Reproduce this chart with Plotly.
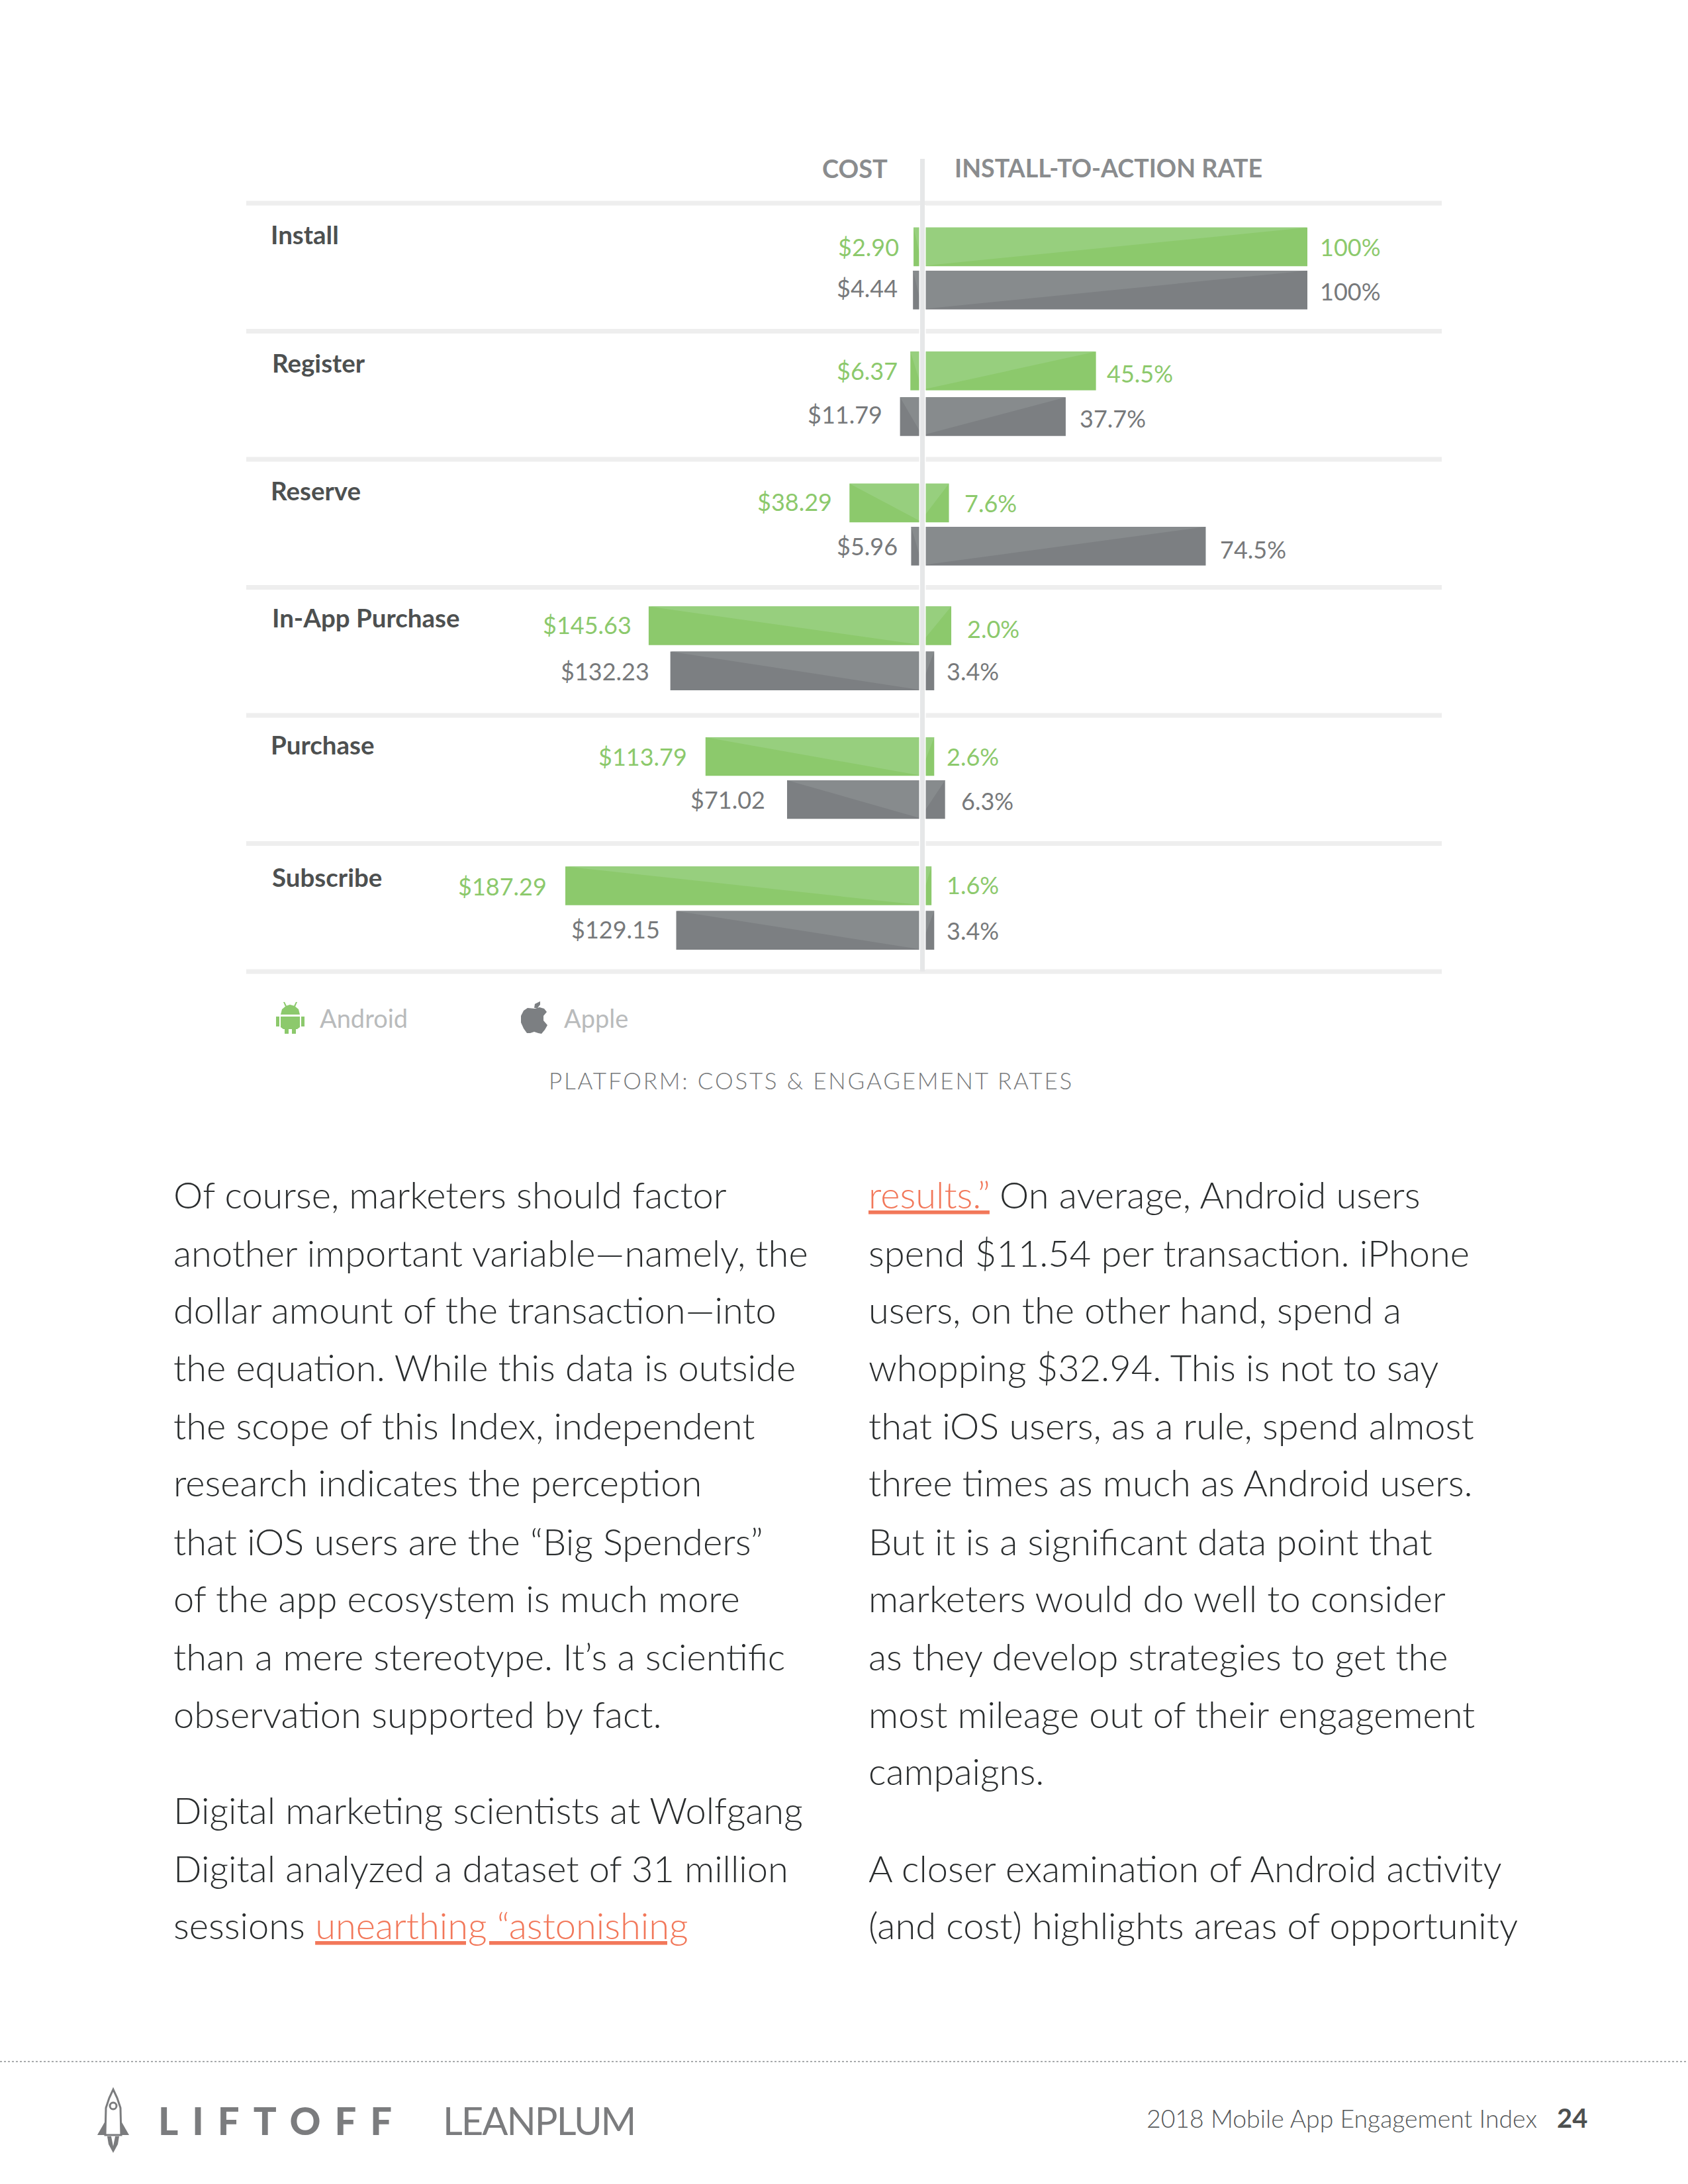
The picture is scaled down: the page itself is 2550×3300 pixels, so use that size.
import plotly.graph_objects as go

# ---------- data ----------
actions = ["Install", "Register", "Reserve", "In-App Purchase", "Purchase", "Subscribe"]
android_cost_labels = ["$2.90", "$6.37", "$38.29", "$145.63", "$113.79", "$187.29"]
apple_cost_labels = ["$4.44", "$11.79", "$5.96", "$132.23", "$71.02", "$129.15"]
android_rate_labels = ["100%", "45.5%", "7.6%", "2.0%", "2.6%", "1.6%"]
apple_rate_labels = ["100%", "37.7%", "74.5%", "3.4%", "6.3%", "3.4%"]
# bar lengths as they are drawn in the picture (not always equal to the printed label)
android_cost = [4.7, 6.37, 38.29, 143.6, 113.79, 187.29]
apple_cost = [5.0, 11.79, 5.96, 132.23, 71.02, 129.15]
android_rate_bar = [100, 45.5, 7.6, 8.2, 3.8, 3.1]
apple_rate_bar = [100, 37.7, 73.8, 3.8, 6.6, 3.8]

left_column = [
    "Of course, marketers should factor",
    "another important variable—namely, the",
    "dollar amount of the transaction—into",
    "the equation. While this data is outside",
    "the scope of this Index, independent",
    "research indicates the perception",
    "that iOS users are the “Big Spenders”",
    "of the app ecosystem is much more",
    "than a mere stereotype. It’s a scientific",
    "observation supported by fact.",
    "Digital marketing scientists at Wolfgang",
    "Digital analyzed a dataset of 31 million",
    "sessions <span style='color:#F2785A'><u>unearthing “astonishing</u></span>",
]
right_column = [
    "<span style='color:#F2785A'><u>results.”</u></span> On average, Android users",
    "spend $11.54 per transaction. iPhone",
    "users, on the other hand, spend a",
    "whopping $32.94. This is not to say",
    "that iOS users, as a rule, spend almost",
    "three times as much as Android users.",
    "But it is a significant data point that",
    "marketers would do well to consider",
    "as they develop strategies to get the",
    "most mileage out of their engagement",
    "campaigns.",
    "A closer examination of Android activity",
    "(and cost) highlights areas of opportunity",
]

# ---------- layout ----------
W, H = 2550, 3300
FONT = "Lato"
GREEN_D, GREEN_L = "#8CC96C", "#97CF7E"
GRAY_D, GRAY_L = "#7C7F82", "#878B8D"
GREEN_T, GRAY_T = "#8CC96C", "#77797B"
ROW_PX, ROW0_PX = 193.5, 307
BAR_H = 0.302
android_lane = [0.341, 0.310, 0.341, 0.300, 0.321, 0.331]
apple_lane = [0.678, 0.667, 0.678, 0.652, 0.657, 0.678]
COST_ZERO_PX, COST_PX = 1393.6, 2.881
RATE_ZERO_PX, RATE_PX = 1389.0, 5.86

android_cost_dx = [-20, -17, -24, -24, -26, -26]
apple_cost_dx = [-21, -25, -18, -30, -31, -23]
android_rate_dx = [17, 14, 21, 22, 17, 21]
apple_rate_dx = [17, 19, 20, 17, 22, 17]
android_cost_dy = [0, 0, -2, -2, 0, 0]
apple_cost_dy = [-3, -4, 0, 0, 0, -2]
android_rate_dy = [0, 4, 0, 4, 0, -2]
apple_rate_dy = [2, 2, 5, 0, 2, 0]
label_x = [408, 410, 408, 410, 408, 410]
label_y = [354, 548, 741, 933, 1125, 1325]

fig = go.Figure()
ya = [i + d for i, d in enumerate(android_lane)]
yb = [i + d for i, d in enumerate(apple_lane)]


def sheen(values, ys, color, axis):
    for v, y in zip(values, ys):
        fig.add_trace(go.Scatter(
            x=[0, 0, v, 0], y=[y + BAR_H / 2, y - BAR_H / 2, y - BAR_H / 2, y + BAR_H / 2],
            mode="lines", line=dict(width=0), fill="toself", fillcolor=color,
            xaxis=axis, yaxis="y", hoverinfo="skip", showlegend=False))


for vals, ys, col, axis in [
    (android_cost, ya, GREEN_D, "x"), (apple_cost, yb, GRAY_D, "x"),
    (android_rate_bar, ya, GREEN_D, "x2"), (apple_rate_bar, yb, GRAY_D, "x2"),
]:
    fig.add_trace(go.Bar(x=vals, y=ys, orientation="h", width=BAR_H, marker=dict(color=col, line=dict(width=0)),
                         xaxis=axis, yaxis="y", showlegend=False))
sheen(android_cost, ya, GREEN_L, "x")
sheen(apple_cost, yb, GRAY_L, "x")
sheen(android_rate_bar, ya, GREEN_L, "x2")
sheen(apple_rate_bar, yb, GRAY_L, "x2")

ann = []


def page_text(px, py, text, size, color, weight=400, anchor="left", font=FONT):
    ann.append(dict(xref="paper", yref="paper", x=px / W, y=1 - py / H, text=text, showarrow=False,
                    xanchor=anchor, yanchor="middle", align=anchor, borderpad=0,
                    font=dict(family=font, size=size, color=color, weight=weight)))


def value_labels(xref, values, ys, texts, dxs, dys, color, anchor):
    for v, y, t, dx, dy in zip(values, ys, texts, dxs, dys):
        ann.append(dict(xref=xref, yref="y", x=v, y=y, text=t, showarrow=False, xanchor=anchor, yanchor="middle",
                        xshift=dx, yshift=-dy, font=dict(family=FONT, size=36, color=color)))


value_labels("x", android_cost, ya, android_cost_labels, android_cost_dx, android_cost_dy, GREEN_T, "right")
value_labels("x", apple_cost, yb, apple_cost_labels, apple_cost_dx, apple_cost_dy, GRAY_T, "right")
value_labels("x2", android_rate_bar, ya, android_rate_labels, android_rate_dx, android_rate_dy, GREEN_T, "left")
value_labels("x2", apple_rate_bar, yb, apple_rate_labels, apple_rate_dx, apple_rate_dy, GRAY_T, "left")

for name, px, py in zip(actions, label_x, label_y):
    page_text(px, py, name, 38.5, "#4D5050", 700)

page_text(1241, 254, "COST", 38, "#8A8C8E", 700)
page_text(1441, 254, "INSTALL-TO-ACTION RATE", 37.6, "#8A8C8E", 700)
page_text(482, 1538, "Android", 38, "#B9BBBC")
page_text(851, 1538, "Apple", 38, "#B9BBBC")
page_text(1225, 1632, "<span style='letter-spacing:2.8px'>PLATFORM: COSTS &amp; ENGAGEMENT RATES</span>", 35,
          "#77797B", 300, "center")

left_y = [858, 900, 941, 982, 1024, 1065, 1107, 1148, 1190, 1231, 1300, 1342, 1383]
right_y = [858, 900, 941, 982, 1024, 1065, 1107, 1148, 1190, 1231, 1272, 1342, 1383]
for t, y in zip(left_column, left_y):
    page_text(261, y * 2.104 - 1, t, 56, "#2A2D2E", 300)
for t, y in zip(right_column, right_y):
    page_text(1311, y * 2.104 - 1, t, 56, "#2A2D2E", 300)

page_text(238, 3203, "<span style='letter-spacing:21px'>LIFTOFF</span>", 58, "#7B7C7E", 900)
page_text(668, 3203, "<span style='letter-spacing:-2px'>LEANPLUM</span>", 58, "#7B7C7E", 400)
page_text(1731, 3200, "2018 Mobile App Engagement Index", 37.4, "#55585A", 300)
page_text(2351, 3200, "24", 40, "#4D5050", 700)


def path(points, close=True):
    s = "M " + " L ".join(f"{x / W:.5f},{1 - y / H:.5f}" for x, y in points)
    return s + (" Z" if close else "")


shapes = []
for r in range(len(actions) + 1):
    shapes.append(dict(type="line", xref="paper", yref="y", x0=372 / W, x1=2178 / W, y0=r, y1=r,
                       line=dict(color="#EEEEEE", width=7), layer="below"))
shapes.append(dict(type="rect", xref="paper", yref="paper", x0=1388.5 / W, x1=1398.5 / W, y0=1 - 310 / H, y1=1 - 1465 / H,
                   fillcolor="#FFFFFF", line=dict(width=0), layer="above"))
shapes.append(dict(type="rect", xref="paper", yref="paper", x0=1390 / W, x1=1397 / W, y0=1 - 240 / H, y1=1 - 1468 / H,
                   fillcolor="#E6E7E8", line=dict(width=0), layer="above"))
shapes.append(dict(type="line", xref="paper", yref="paper", x0=0, x1=1, y0=1 - 3115 / H, y1=1 - 3115 / H,
                   line=dict(color="#A8AAAC", width=2, dash="dot")))

# rocket
shapes.append(dict(type="path", xref="paper", yref="paper", line=dict(color="#7B7C7E", width=3), fillcolor="rgba(0,0,0,0)",
                   path=path([(171, 3157), (165, 3170), (160, 3185), (159, 3226), (183, 3226), (182, 3185), (177, 3170)])))
for pts in ([(159, 3205), (147, 3226), (159, 3226)], [(183, 3205), (195, 3226), (183, 3226)],
            [(162, 3228), (180, 3228), (178, 3240), (171, 3253), (164, 3240)]):
    shapes.append(dict(type="path", xref="paper", yref="paper", line=dict(width=0), fillcolor="#7B7C7E", path=path(pts)))
shapes.append(dict(type="path", xref="paper", yref="paper", line=dict(width=0), fillcolor="#FFFFFF",
                   path=path([(168, 3228), (174, 3228), (171, 3243)])))
shapes.append(dict(type="circle", xref="paper", yref="paper", x0=166 / W, x1=176 / W, y0=1 - 3177 / H, y1=1 - 3187 / H,
                   line=dict(color="#7B7C7E", width=3)))

# android icon
for pts in ([(424, 1533), (426, 1525), (432, 1520), (438, 1518), (445, 1520), (451, 1525), (453, 1533)],
            [(424, 1536), (453, 1536), (453, 1552), (449, 1555), (428, 1555), (424, 1552)],
            [(417, 1536), (422, 1536), (422, 1551), (417, 1551)], [(455, 1536), (460, 1536), (460, 1551), (455, 1551)],
            [(430, 1555), (436, 1555), (436, 1562), (430, 1562)], [(441, 1555), (447, 1555), (447, 1562), (441, 1562)],
            [(428, 1514), (430, 1514), (433, 1520), (431, 1521)], [(449, 1514), (447, 1514), (444, 1520), (446, 1521)]):
    shapes.append(dict(type="path", xref="paper", yref="paper", line=dict(width=0), fillcolor=GREEN_T, path=path(pts)))

# apple icon
apple_pts = [(808, 1524), (815, 1522), (822, 1524), (826, 1529), (821, 1535), (821, 1542), (827, 1549), (823, 1556),
             (818, 1562), (813, 1561), (807, 1559), (801, 1561), (796, 1561), (791, 1554), (787, 1545), (787, 1535),
             (791, 1527), (797, 1523)]
shapes.append(dict(type="path", xref="paper", yref="paper", line=dict(width=0), fillcolor=GRAY_D, path=path(apple_pts)))
shapes.append(dict(type="path", xref="paper", yref="paper", line=dict(width=0), fillcolor=GRAY_D,
                   path=path([(816, 1513), (816, 1518), (812, 1523), (807, 1523), (808, 1517)])))

ax = dict(visible=False, fixedrange=True, anchor="y")
fig.update_layout(
    width=W, height=H, autosize=False, margin=dict(l=0, r=0, t=0, b=0, pad=0),
    paper_bgcolor="#FFFFFF", plot_bgcolor="rgba(0,0,0,0)", barmode="overlay", showlegend=False,
    xaxis=dict(ax, domain=[0, COST_ZERO_PX / W], range=[COST_ZERO_PX / COST_PX, 0]),
    xaxis2=dict(ax, domain=[RATE_ZERO_PX / W, 1], range=[0, (W - RATE_ZERO_PX) / RATE_PX]),
    yaxis=dict(visible=False, fixedrange=True, domain=[0, 1], range=[(H - ROW0_PX) / ROW_PX, -ROW0_PX / ROW_PX]),
    annotations=ann, shapes=shapes,
)
fig.write_html(
    "out.html",
    config=dict(displayModeBar=False),
    post_script="document.body.style.margin='0';document.documentElement.style.overflow='hidden';"
                "var s=document.createElement('style');s.textContent='text{font-variant-ligatures:none}';"
                "document.head.appendChild(s);",
)
